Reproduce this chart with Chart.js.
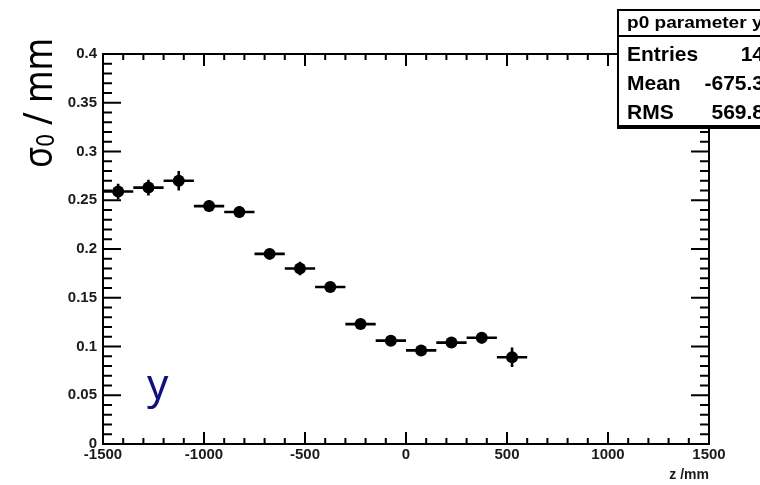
<!DOCTYPE html>
<html lang="en">
  <head>
    <meta charset="utf-8" />
    <title>p0 parameter y</title>
    <script src="https://cdn.jsdelivr.net/npm/chart.js"></script>
    <style>
      body {
        margin: 0;
        background: #fff;
      }
      .chart-box {
        width: 760px;
        height: 485px;
        position: relative;
      }
    </style>
  </head>
  <body>
    <div class="chart-box"><canvas id="sigmaChart"></canvas></div>
    <script>
      // bin centres (z / mm), half bin width and fitted sigma0 with errors
      const zCenters = [-1425, -1275, -1125, -975, -825, -675, -525, -375, -225, -75, 75, 225, 375, 525];
      const zHalfWidth = [75, 75, 75, 75, 75, 75, 75, 75, 75, 75, 75, 75, 75, 75];
      const sigma0 = [0.259, 0.263, 0.270, 0.244, 0.238, 0.195, 0.180, 0.161, 0.123, 0.106, 0.096, 0.104, 0.109, 0.089];
      const sigmaErr = [0.008, 0.008, 0.010, 0.006, 0.006, 0.005, 0.007, 0.005, 0.005, 0.005, 0.005, 0.005, 0.006, 0.010];

      const xTickValues = [-1500, -1000, -500, 0, 500, 1000, 1500];
      const xTickLabels = ["-1500", "-1000", "-500", "0", "500", "1000", "1500"];
      const yTickValues = [0, 0.05, 0.1, 0.15, 0.2, 0.25, 0.3, 0.35, 0.4];
      const yTickLabels = ["0", "0.05", "0.1", "0.15", "0.2", "0.25", "0.3", "0.35", "0.4"];

      const statsTitle = "p0 parameter y";
      const statsNames = ["Entries", "Mean", "RMS"];
      const statsValues = ["14", "-675.3", "569.8"];

      const tickFont = { family: "'Liberation Sans', Arial, sans-serif", size: 15, weight: "bold" };

      // ROOT style frame, inner ticks, error bars, stats box and labels
      const rootStyle = {
        id: "rootStyle",
        beforeDatasetsDraw(chart) {
          const ctx = chart.ctx;
          const xs = chart.scales.x;
          const ys = chart.scales.y;
          ctx.save();
          ctx.strokeStyle = "#000";
          ctx.lineWidth = 2.6;
          ctx.beginPath();
          for (let i = 0; i < zCenters.length; i++) {
            const py = ys.getPixelForValue(sigma0[i]);
            const px = xs.getPixelForValue(zCenters[i]);
            ctx.moveTo(xs.getPixelForValue(zCenters[i] - zHalfWidth[i]), py);
            ctx.lineTo(xs.getPixelForValue(zCenters[i] + zHalfWidth[i]), py);
            ctx.moveTo(px, ys.getPixelForValue(sigma0[i] - sigmaErr[i]));
            ctx.lineTo(px, ys.getPixelForValue(sigma0[i] + sigmaErr[i]));
          }
          ctx.stroke();
          ctx.restore();
        },
        afterDraw(chart) {
          const ctx = chart.ctx;
          const a = chart.chartArea;
          const xs = chart.scales.x;
          const ys = chart.scales.y;
          ctx.save();
          ctx.strokeStyle = "#000";
          ctx.lineWidth = 2;
          ctx.strokeRect(a.left, a.top, a.right - a.left, a.bottom - a.top);

          ctx.beginPath();
          // x ticks every 100, major every 500
          for (let k = 0; k <= 30; k++) {
            const px = xs.getPixelForValue(-1500 + k * 100);
            const len = k % 5 === 0 ? 12 : 6;
            ctx.moveTo(px, a.bottom);
            ctx.lineTo(px, a.bottom - len);
            ctx.moveTo(px, a.top);
            ctx.lineTo(px, a.top + len);
          }
          // y ticks every 0.01, major every 0.05
          for (let k = 0; k <= 40; k++) {
            const py = ys.getPixelForValue(k * 0.01);
            const len = k % 5 === 0 ? 18 : 9;
            ctx.moveTo(a.left, py);
            ctx.lineTo(a.left + len, py);
            ctx.moveTo(a.right, py);
            ctx.lineTo(a.right - len, py);
          }
          ctx.stroke();

          // stats box
          ctx.fillStyle = "#000";
          ctx.fillRect(617, 9, 200, 120);
          ctx.fillStyle = "#fff";
          ctx.fillRect(619, 11, 200, 114);
          ctx.fillStyle = "#000";
          ctx.fillRect(619, 35, 200, 2);
          ctx.textBaseline = "middle";
          ctx.font = "bold 17px 'Liberation Sans', Arial, sans-serif";
          ctx.save();
          ctx.translate(627, 23);
          ctx.scale(1.12, 1);
          ctx.fillText(statsTitle, 0, 0);
          ctx.restore();
          ctx.font = "bold 21px 'Liberation Sans', Arial, sans-serif";
          const rowY = [55, 84, 113];
          for (let i = 0; i < statsNames.length; i++) {
            ctx.textAlign = "left";
            ctx.fillText(statsNames[i], 627, rowY[i]);
            ctx.textAlign = "right";
            ctx.fillText(statsValues[i], 764, rowY[i]);
          }

          // y axis title: sigma_0 / mm
          ctx.save();
          ctx.translate(52, 168);
          ctx.rotate(-Math.PI / 2);
          const big = "40px 'Noto Sans', 'DejaVu Sans', sans-serif";
          const small = "25px 'Noto Sans', 'DejaVu Sans', sans-serif";
          ctx.font = big;
          const w1 = ctx.measureText("\u03c3").width;
          const w3 = ctx.measureText(" / mm").width;
          ctx.font = small;
          const w2 = ctx.measureText("0").width;
          ctx.scale(130 / (w1 + w2 + w3), 1);
          ctx.textAlign = "left";
          ctx.textBaseline = "alphabetic";
          ctx.font = big;
          ctx.fillText("\u03c3", 0, 0);
          ctx.font = small;
          ctx.fillText("0", w1, 2);
          ctx.font = big;
          ctx.fillText(" / mm", w1 + w2, 0);
          ctx.restore();

          // coordinate label
          ctx.fillStyle = "#10107e";
          ctx.font = "42px 'Noto Sans', 'DejaVu Sans', sans-serif";
          ctx.textAlign = "left";
          ctx.textBaseline = "alphabetic";
          ctx.fillText("y", 147, 399);
          ctx.restore();
        },
      };

      new Chart(document.getElementById("sigmaChart"), {
        type: "scatter",
        data: {
          datasets: [
            {
              label: statsTitle,
              data: zCenters.map((z, i) => ({ x: z, y: sigma0[i] })),
              pointRadius: 6,
              pointHoverRadius: 6,
              pointBackgroundColor: "#000",
              pointBorderWidth: 0,
              showLine: false,
            },
          ],
        },
        plugins: [rootStyle],
        options: {
          responsive: true,
          maintainAspectRatio: false,
          animation: false,
          layout: { padding: { left: 0, top: 54, right: 51, bottom: 0 } },
          plugins: {
            legend: { display: false },
            tooltip: { enabled: false },
          },
          scales: {
            x: {
              type: "linear",
              min: -1500,
              max: 1500,
              afterBuildTicks: (s) => {
                s.ticks = xTickValues.map((v) => ({ value: v }));
              },
              afterFit: (s) => {
                s.height = 41;
              },
              ticks: {
                autoSkip: false,
                maxRotation: 0,
                padding: 2,
                color: "#1a1a1a",
                font: tickFont,
                callback: (v, i) => xTickLabels[i],
              },
              grid: { display: false, drawTicks: false },
              border: { display: false },
              title: {
                display: true,
                text: "z /mm",
                align: "end",
                color: "#1a1a1a",
                font: { family: "'Liberation Sans', Arial, sans-serif", size: 14, weight: "bold" },
                padding: { top: 0, bottom: 1 },
              },
            },
            y: {
              type: "linear",
              min: 0,
              max: 0.4,
              afterBuildTicks: (s) => {
                s.ticks = yTickValues.map((v) => ({ value: v }));
              },
              afterFit: (s) => {
                s.width = 103;
              },
              ticks: {
                autoSkip: false,
                padding: 6,
                color: "#1a1a1a",
                font: tickFont,
                callback: (v, i) => yTickLabels[i],
              },
              grid: { display: false, drawTicks: false },
              border: { display: false },
            },
          },
        },
      });
    </script>
  </body>
</html>
